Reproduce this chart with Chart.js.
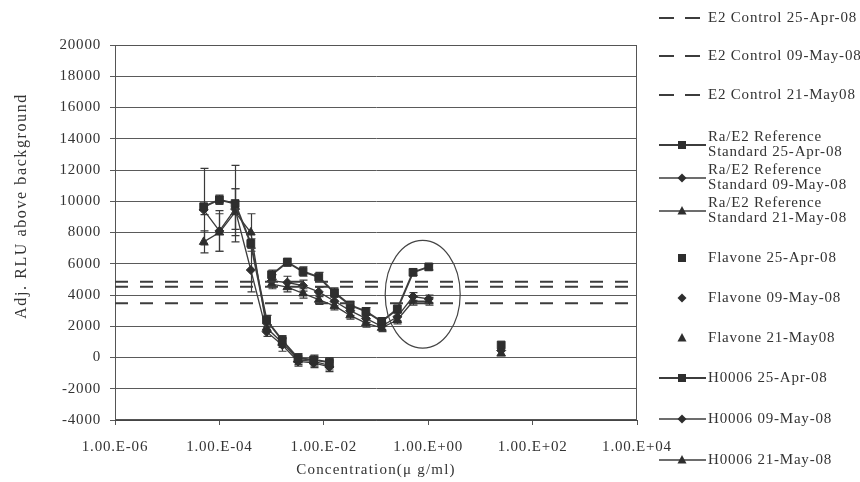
<!DOCTYPE html>
<html>
<head>
<meta charset="utf-8">
<script src="https://cdn.jsdelivr.net/npm/chart.js@4.4.1/dist/chart.umd.min.js"></script>
<style>
  html, body { margin: 0; padding: 0; background: #fff; }
  #wrap { width: 860px; height: 482px; position: relative; }
</style>
</head>
<body>
<div id="wrap"><canvas id="c" width="860" height="482"></canvas></div>
<script>
// ---- axis ticks ----
const xTickValues = [1e-6, 1e-4, 1e-2, 1, 1e2, 1e4];
const xTickLabels = ['1.00.E-06', '1.00.E-04', '1.00.E-02', '1.00.E+00', '1.00.E+02', '1.00.E+04'];
const xLimits = [1e-6, 1e4];

// ---- E2 control levels (flat reference lines) ----
const controlLabels = ['E2 Control 25-Apr-08', 'E2 Control 09-May-08', 'E2 Control 21-May08'];
const controlLevels = [4850, 4530, 3470];

// ---- Ra/E2 reference standard ----
const refConc = [5e-5, 1e-4, 2e-4, 4e-4, 8e-4, 1.6e-3, 3.2e-3, 6.4e-3, 1.28e-2];
const refLabels = ['Ra/E2 Reference Standard 25-Apr-08', 'Ra/E2 Reference Standard 09-May-08', 'Ra/E2 Reference Standard 21-May-08'];
const refApr25 = [9650, 10100, 9850, 7300, 2400, 1100, -50, -150, -300];
const refMay09 = [9450, 8100, 9500, 5600, 1650, 800, -250, -350, -600];
const refMay21 = [7400, 8000, 9300, 8000, 1900, 950, -150, -250, -500];
const refApr25Err = [2450, 300, 2450, 300, 300, 300, 300, 300, 300];
const refMay09Err = [300, 1300, 1300, 1400, 300, 400, 300, 300, 300];
const refMay21Err = [700, 1200, 1500, 1200, 200, 300, 300, 300, 300];

// ---- Flavone ----
const flavoneConc = [25];
const flavoneLabels = ['Flavone 25-Apr-08', 'Flavone 09-May-08', 'Flavone 21-May08'];
const flavoneApr25 = [800];
const flavoneMay09 = [450];
const flavoneMay21 = [250];

// ---- H0006 ----
const h0006Conc = [0.001, 0.002, 0.004, 0.008, 0.016, 0.032, 0.064, 0.128, 0.256, 0.512, 1.024];
const h0006Labels = ['H0006 25-Apr-08', 'H0006 09-May-08', 'H0006 21-May-08'];
const h0006Apr25 = [5300, 6100, 5500, 5150, 4150, 3350, 2950, 2300, 3100, 5450, 5800];
const h0006May09 = [4900, 4800, 4600, 4200, 3600, 3000, 2500, 2000, 2600, 3900, 3750];
const h0006May21 = [4700, 4500, 4100, 3700, 3300, 2700, 2200, 1900, 2400, 3600, 3600];
const h0006Apr25Err = [300, 250, 300, 300, 300, 250, 250, 250, 250, 200, 200];
const h0006May09Err = [400, 400, 350, 300, 300, 300, 250, 250, 250, 250, 250];
const h0006May21Err = [300, 300, 300, 300, 250, 250, 250, 250, 250, 250, 250];

// ---- highlighted region (ellipse bounds in data units) ----
const ellipseX = [0.15, 4.1];
const ellipseY = [600, 7500];

// ---- styling ----
const INK = '#2e2e2e';
const LINE = '#3c3c3c';
const FONT = '"Liberation Serif", "DejaVu Serif", serif';

const toPoints = (xs, ys) => xs.map((x, i) => ({ x: x, y: ys[i] }));

const MARK = {
  square:   { pointStyle: 'rect',     pointRadius: 5.5 },
  diamond:  { pointStyle: 'rectRot',  pointRadius: 4.5 },
  triangle: { pointStyle: 'triangle', pointRadius: 5 }
};

function controlSet(i) {
  return {
    label: controlLabels[i],
    data: xLimits.map(x => ({ x: x, y: controlLevels[i] })),
    borderColor: LINE, borderWidth: 2, borderDash: [13, 12],
    pointRadius: 0, legendKind: 'dash'
  };
}

function seriesSet(label, xs, ys, errs, mark, width, withLine) {
  const m = MARK[mark];
  return {
    label: label,
    data: toPoints(xs, ys),
    errors: errs,
    marker: mark,
    showLine: withLine,
    borderColor: LINE, borderWidth: width,
    pointStyle: m.pointStyle, pointRadius: m.pointRadius,
    pointBackgroundColor: INK, pointBorderColor: INK, pointBorderWidth: 1,
    legendKind: withLine ? 'line' : 'marker'
  };
}

const datasets = [
  controlSet(0), controlSet(1), controlSet(2),
  seriesSet(refLabels[0], refConc, refApr25, refApr25Err, 'square', 2, true),
  seriesSet(refLabels[1], refConc, refMay09, refMay09Err, 'diamond', 1.3, true),
  seriesSet(refLabels[2], refConc, refMay21, refMay21Err, 'triangle', 1.3, true),
  seriesSet(flavoneLabels[0], flavoneConc, flavoneApr25, null, 'square', 1, false),
  seriesSet(flavoneLabels[1], flavoneConc, flavoneMay09, null, 'diamond', 1, false),
  seriesSet(flavoneLabels[2], flavoneConc, flavoneMay21, null, 'triangle', 1, false),
  seriesSet(h0006Labels[0], h0006Conc, h0006Apr25, h0006Apr25Err, 'square', 2, true),
  seriesSet(h0006Labels[1], h0006Conc, h0006May09, h0006May09Err, 'diamond', 1.3, true),
  seriesSet(h0006Labels[2], h0006Conc, h0006May21, h0006May21Err, 'triangle', 1.3, true)
];

// spaced-out serif text, like the original rendering
const textSpacing = {
  id: 'textSpacing',
  beforeLayout(chart) { chart.ctx.letterSpacing = '0.8px'; },
  beforeDraw(chart) { chart.ctx.letterSpacing = '0.8px'; }
};

// plot frame, error bars and the highlight ellipse
const extras = {
  id: 'extras',
  beforeDatasetsDraw(chart) {
    const ctx = chart.ctx, a = chart.chartArea;
    const xs = chart.scales.x, ys = chart.scales.y;
    ctx.save();
    ctx.strokeStyle = '#555';
    ctx.lineWidth = 1;
    ctx.strokeRect(a.left + 0.5, a.top + 0.5, a.right - a.left - 1, a.bottom - a.top - 1);

    ctx.strokeStyle = '#3a3a3a';
    ctx.lineWidth = 1.2;
    chart.data.datasets.forEach(ds => {
      if (!ds.errors) return;
      ds.data.forEach((p, j) => {
        const e = ds.errors[j];
        if (!e) return;
        const x = Math.round(xs.getPixelForValue(p.x)) + 0.5;
        const y1 = ys.getPixelForValue(p.y + e);
        const y2 = ys.getPixelForValue(p.y - e);
        ctx.beginPath();
        ctx.moveTo(x, y1); ctx.lineTo(x, y2);
        ctx.moveTo(x - 4, y1); ctx.lineTo(x + 4, y1);
        ctx.moveTo(x - 4, y2); ctx.lineTo(x + 4, y2);
        ctx.stroke();
      });
    });
    ctx.restore();
  },
  afterDatasetsDraw(chart) {
    const ctx = chart.ctx;
    const xs = chart.scales.x, ys = chart.scales.y;
    const x0 = xs.getPixelForValue(ellipseX[0]), x1 = xs.getPixelForValue(ellipseX[1]);
    const y0 = ys.getPixelForValue(ellipseY[1]), y1 = ys.getPixelForValue(ellipseY[0]);
    ctx.save();
    ctx.strokeStyle = '#444';
    ctx.lineWidth = 1.2;
    ctx.beginPath();
    ctx.ellipse((x0 + x1) / 2, (y0 + y1) / 2, (x1 - x0) / 2, (y1 - y0) / 2, 0, 0, Math.PI * 2);
    ctx.stroke();
    ctx.restore();
  },
  afterDraw(chart) {
    const ctx = chart.ctx, a = chart.chartArea;
    ctx.save();
    ctx.fillStyle = '#333';
    ctx.textAlign = 'center';
    ctx.textBaseline = 'middle';
    ctx.letterSpacing = '1.2px';
    ctx.font = '15px ' + FONT;
    ctx.fillText('Concentration(\u03bc g/ml)', (a.left + a.right) / 2, 470);
    ctx.translate(22, 206);
    ctx.rotate(-Math.PI / 2);
    ctx.letterSpacing = '1.6px';
    ctx.font = '16px ' + FONT;
    ctx.fillText('Adj. RLU above background', 0, 0);
    ctx.restore();
  }
};

// legend column on the right
const legendRows = [18, 56, 95, 145, 178, 211, 258, 298, 338, 378, 419, 460];
function drawMarker(ctx, kind, x, y) {
  ctx.beginPath();
  if (kind === 'square') {
    ctx.rect(x - 4, y - 4, 8, 8);
  } else if (kind === 'diamond') {
    ctx.moveTo(x, y - 4.5); ctx.lineTo(x + 4.5, y); ctx.lineTo(x, y + 4.5); ctx.lineTo(x - 4.5, y); ctx.closePath();
  } else {
    ctx.moveTo(x, y - 5); ctx.lineTo(x + 4.5, y + 3.5); ctx.lineTo(x - 4.5, y + 3.5); ctx.closePath();
  }
  ctx.fill();
}
function wrapLabel(ctx, text, maxW) {
  const words = text.split(' ');
  const lines = [];
  let cur = '';
  words.forEach(w => {
    const t = cur ? cur + ' ' + w : w;
    if (cur && ctx.measureText(t).width > maxW) { lines.push(cur); cur = w; } else { cur = t; }
  });
  if (cur) lines.push(cur);
  return lines;
}
const sideLegend = {
  id: 'sideLegend',
  afterDraw(chart) {
    const ctx = chart.ctx;
    ctx.save();
    ctx.font = '15px ' + FONT;
    ctx.letterSpacing = '0.8px';
    ctx.textAlign = 'left';
    ctx.textBaseline = 'middle';
    chart.data.datasets.forEach((ds, i) => {
      const y = legendRows[i];
      ctx.strokeStyle = LINE;
      ctx.fillStyle = INK;
      if (ds.legendKind === 'dash') {
        ctx.lineWidth = 2;
        ctx.beginPath();
        ctx.moveTo(659, y); ctx.lineTo(674, y);
        ctx.moveTo(685, y); ctx.lineTo(700, y);
        ctx.stroke();
      } else {
        if (ds.legendKind === 'line') {
          ctx.lineWidth = ds.borderWidth;
          ctx.beginPath();
          ctx.moveTo(659, y); ctx.lineTo(706, y);
          ctx.stroke();
        }
        drawMarker(ctx, ds.marker, 682, y);
      }
      ctx.fillStyle = '#333';
      const lines = wrapLabel(ctx, ds.label, 162);
      const lh = 15;
      const top = y - (lines.length - 1) * lh / 2;
      lines.forEach((ln, k) => ctx.fillText(ln, 708, top + k * lh));
    });
    ctx.restore();
  }
};

Chart.defaults.font.family = FONT;
Chart.defaults.font.size = 15;
Chart.defaults.color = '#333';

new Chart(document.getElementById('c'), {
  type: 'line',
  data: { datasets: datasets },
  options: {
    responsive: false,
    devicePixelRatio: 1,
    animation: false,
    layout: { padding: { top: 45, right: 223, left: 0, bottom: 0 } },
    plugins: { legend: { display: false }, tooltip: { enabled: false } },
    elements: { line: { tension: 0 } },
    scales: {
      x: {
        type: 'logarithmic',
        min: xLimits[0], max: xLimits[1],
        afterBuildTicks(scale) { scale.ticks = xTickValues.map(v => ({ value: v })); },
        afterFit(scale) { scale.height = 62; },
        ticks: {
          autoSkip: false, maxRotation: 0, minRotation: 0, padding: 13,
          callback: (v, i) => xTickLabels[i]
        },
        grid: { display: true, drawOnChartArea: false, drawTicks: true, tickLength: 5, color: '#555' },
        border: { color: '#444', width: 1 }
      },
      y: {
        min: -4000, max: 20000,
        afterFit(scale) { scale.width = 115; },
        ticks: { stepSize: 2000, padding: 9, callback: v => String(v) },
        grid: { color: '#5a5a5a', lineWidth: 1, tickLength: 5 },
        border: { color: '#444', width: 1 }
      }
    }
  },
  plugins: [textSpacing, extras, sideLegend]
});
</script>
</body>
</html>
